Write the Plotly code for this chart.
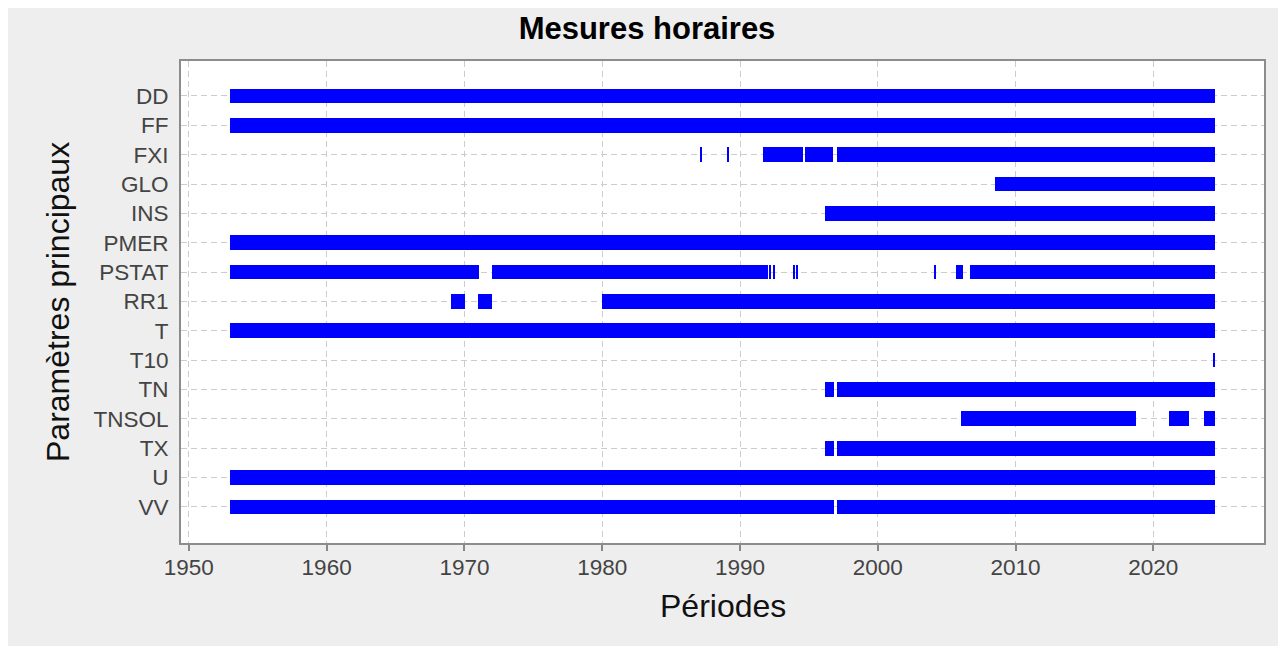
import plotly.graph_objects as go

# ---------------- data ----------------
params = ["DD", "FF", "FXI", "GLO", "INS", "PMER", "PSTAT", "RR1", "T",
          "T10", "TN", "TNSOL", "TX", "U", "VV"]

seg_param = ["DD", "FF",
             "FXI", "FXI", "FXI", "FXI", "FXI",
             "GLO", "INS", "PMER",
             "PSTAT", "PSTAT", "PSTAT", "PSTAT", "PSTAT", "PSTAT", "PSTAT", "PSTAT", "PSTAT",
             "RR1", "RR1", "RR1",
             "T", "T10",
             "TN", "TN",
             "TNSOL", "TNSOL", "TNSOL",
             "TX", "TX",
             "U",
             "VV", "VV"]
seg_start = [1953.0, 1953.0,
             1987.12, 1989.07, 1991.67, 1994.72, 1997.04,
             2008.5, 1996.17, 1953.0,
             1953.0, 1972.02, 1992.17, 1992.42, 1993.9, 1994.1, 2004.12, 2005.67, 2006.69,
             1969.05, 1971.01, 1980.0,
             1953.0, 2024.35,
             1996.17, 1997.04,
             2006.03, 2021.12, 2023.66,
             1996.17, 1997.04,
             1953.0,
             1953.0, 1997.04]
seg_end = [2024.45, 2024.45,
           1987.22, 1989.17, 1994.58, 1996.75, 2024.45,
           2024.45, 2024.45, 2024.45,
           1971.08, 1992.02, 1992.27, 1992.52, 1994.0, 1994.2, 2004.22, 2006.18, 2024.45,
           1970.07, 1972.02, 2024.45,
           2024.45, 2024.45,
           1996.82, 2024.45,
           2018.72, 2022.57, 2024.45,
           1996.82, 2024.45,
           2024.45,
           1996.82, 2024.45]

x_ticks = [1950, 1960, 1970, 1980, 1990, 2000, 2010, 2020]

title_text = "Mesures horaires"
x_title = "Périodes"
y_title = "Paramètres principaux"

# ---------------- figure ----------------
lengths = [e - s for s, e in zip(seg_start, seg_end)]

fig = go.Figure()
fig.add_trace(go.Bar(
    y=seg_param, x=lengths, base=seg_start, orientation="h",
    width=0.5, marker=dict(color="#0000ff", line=dict(width=0)),
    hoverinfo="skip", showlegend=False,
))

FONT = "Liberation Sans, Arial, sans-serif"
OFF = 8  # page body margin offset
W, H = 1286 - OFF, 646 - OFF
L, R, T, B = 181 - OFF, 22, 61 - OFF, 103
pw, ph = W - L - R, H - T - B


def px_x(px):
    return (px - OFF - L) / pw


def px_y(py):
    return (H - B - (py - OFF)) / ph


fig.update_layout(
    width=W, height=H,
    margin=dict(l=L, r=R, t=T, b=B, pad=0),
    paper_bgcolor="#eeeeee",
    plot_bgcolor="white",
    barmode="overlay",
    bargap=0,
    font=dict(family=FONT, color="#444444"),
    title=dict(text="<b>" + title_text + "</b>", x=0.5, xanchor="center",
               y=1 - (28 - OFF) / H, yanchor="middle",
               font=dict(family=FONT, size=31, color="#000000")),
    annotations=[
        dict(text=x_title, xref="paper", yref="paper", x=0.5, y=px_y(606),
             xanchor="center", yanchor="middle", showarrow=False,
             font=dict(family=FONT, size=32, color="#111111")),
        dict(text=y_title, xref="paper", yref="paper", x=px_x(58), y=0.5,
             xanchor="center", yanchor="middle", showarrow=False, textangle=-90,
             font=dict(family=FONT, size=32, color="#111111")),
    ],
)

fig.update_xaxes(
    range=[1949.43, 2028.03],
    tickvals=x_ticks, ticktext=[str(v) for v in x_ticks],
    ticks="outside", ticklen=6, tickwidth=2, tickcolor="#888888",
    ticklabelstandoff=-3,
    tickfont=dict(family=FONT, size=22.5, color="#444444"),
    showgrid=True, gridcolor="#cccccc", gridwidth=1, griddash="6px,4px",
    showline=True, linecolor="#8c8c8c", linewidth=2, mirror=True,
    zeroline=False,
)
fig.update_yaxes(
    type="category", categoryorder="array", categoryarray=params,
    range=[len(params) - 1 + 1.23, -1.19],
    tickvals=params,
    ticks="", ticklabelstandoff=6,
    tickfont=dict(family=FONT, size=22.5, color="#444444"),
    showgrid=True, gridcolor="#cccccc", gridwidth=1, griddash="6px,4px",
    showline=True, linecolor="#8c8c8c", linewidth=2, mirror=True,
    zeroline=False,
)

fig.write_html("out.html")
